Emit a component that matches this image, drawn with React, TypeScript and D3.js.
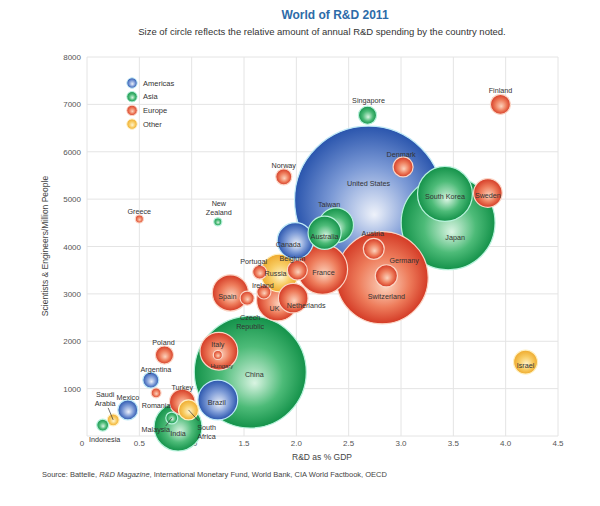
import React from "react";
import * as d3 from "d3";

// ---------- DATA ----------
const regions = ["Americas", "Asia", "Europe", "Other"];

const countries = [
  "United States", "China", "Germany", "Japan", "South Korea", "France", "India", "UK",
  "Russia", "Brazil", "Italy", "Canada", "Spain", "Taiwan", "Australia", "Netherlands",
  "Sweden", "Turkey", "Israel", "Switzerland", "Austria", "Belgium", "Finland", "Denmark",
  "Mexico", "South Africa", "Singapore", "Poland", "Norway", "Argentina", "Portugal",
  "Ireland", "Czech Republic", "Malaysia", "Saudi Arabia", "Indonesia", "Romania",
  "Hungary", "Greece", "New Zealand",
];
const countryRegion = [
  "Americas", "Asia", "Europe", "Asia", "Asia", "Europe", "Asia", "Europe",
  "Other", "Americas", "Europe", "Americas", "Europe", "Asia", "Asia", "Europe",
  "Europe", "Europe", "Other", "Europe", "Europe", "Europe", "Europe", "Europe",
  "Americas", "Other", "Asia", "Europe", "Europe", "Americas", "Europe",
  "Europe", "Europe", "Asia", "Other", "Asia", "Europe",
  "Europe", "Europe", "Asia",
];
// R&D as % of GDP
const rdPctGdp = [
  2.69, 1.56, 2.82, 3.45, 3.42, 2.25, 0.87, 1.82,
  1.84, 1.25, 1.26, 1.99, 1.37, 2.38, 2.27, 1.97,
  3.83, 0.91, 4.19, 2.86, 2.74, 2.01, 3.95, 3.02,
  0.39, 0.97, 2.68, 0.74, 1.88, 0.61, 1.65,
  1.69, 1.53, 0.81, 0.25, 0.15, 0.66,
  1.25, 0.5, 1.25,
];
// Scientists & engineers per million people
const scientists = [
  4980, 1350, 3340, 4500, 5110, 3520, 190, 2870,
  3440, 760, 1790, 4120, 3020, 4450, 4290, 2910,
  5130, 720, 1560, 3380, 3950, 3500, 7000, 5680,
  550, 550, 6770, 1710, 5470, 1180, 3460,
  3040, 2910, 380, 340, 230, 910,
  1710, 4580, 4520,
];
// Annual R&D spending (billion US$)
const spending = [
  400, 229, 155, 161, 55, 46, 42, 32,
  26, 29, 26, 24, 24, 22, 20, 16,
  15, 12, 10.5, 9, 8, 7.3, 7.3, 7.3,
  7.3, 7.3, 6, 6, 4.7, 4.7, 3.6,
  3.6, 3.6, 2.6, 2.6, 2.6, 1.8,
  1.5, 1.2, 1.2,
];

const xTicks = [0, 0.5, 1, 1.5, 2, 2.5, 3, 3.5, 4, 4.5];
const xTickLabels = ["0", "0.5", "1.0", "1.5", "2.0", "2.5", "3.0", "3.5", "4.0", "4.5"];
const yTicks = [0, 1000, 2000, 3000, 4000, 5000, 6000, 7000, 8000];
const yTickLabels = ["0", "1000", "2000", "3000", "4000", "5000", "6000", "7000", "8000"];

// ---------- LAYOUT / STYLE ----------
const W = 600, H = 506;
const PL = 87, PR = 558, PT = 57, PB = 436;
const FONT = "'Liberation Sans Narrow', 'Liberation Sans', Arial, sans-serif";

const palette: Record<string, { light: string; mid: string; base: string; stroke: string }> = {
  Americas: { light: "#eef2fa", mid: "#7c9ad6", base: "#2a55ad", stroke: "#bfe9f7" },
  Asia: { light: "#d9f4e2", mid: "#4dbb78", base: "#14924a", stroke: "#b8f2dc" },
  Europe: { light: "#fcd3bd", mid: "#ee7d5c", base: "#d43b26", stroke: "#fbd6c6" },
  Other: { light: "#fff5cf", mid: "#f8cc63", base: "#eeaa2e", stroke: "#fff0c0" },
};

// label placement relative to bubble centre (pixels)
type Lab = { dx: number; dy: number; lines?: string[]; lead?: [number, number, number, number]; fs?: number };
const labelLayout: Record<string, Lab> = {
  "United States": { dx: 0, dy: -17 },
  China: { dx: 4, dy: 2 },
  Germany: { dx: 22, dy: -17 },
  Japan: { dx: 7, dy: 15 },
  "South Korea": { dx: 0, dy: 3 },
  France: { dx: 1, dy: 3 },
  India: { dx: 0, dy: 7 },
  UK: { dx: -3, dy: 8 },
  Russia: { dx: -4, dy: 0 },
  Brazil: { dx: -1, dy: 3 },
  Italy: { dx: -1, dy: -7 },
  Canada: { dx: -7, dy: 4 },
  Spain: { dx: -3, dy: 4 },
  Australia: { dx: 0, dy: 4 },
  Taiwan: { dx: -7, dy: -21 },
  Netherlands: { dx: 13, dy: 7 },
  Sweden: { dx: 0, dy: 3 },
  Turkey: { dx: 0, dy: -14 },
  Israel: { dx: 0, dy: 3 },
  Switzerland: { dx: 0, dy: 21 },
  Austria: { dx: -1, dy: -15 },
  Belgium: { dx: -5, dy: -12 },
  Finland: { dx: 0, dy: -14 },
  Denmark: { dx: -2, dy: -12 },
  Mexico: { dx: 0, dy: -12 },
  "South Africa": { dx: 18, dy: 18, lines: ["South", "Africa"], lead: [0, 0, 10, 11] },
  Singapore: { dx: 1, dy: -15 },
  Poland: { dx: -1, dy: -12 },
  Norway: { dx: 0, dy: -11 },
  Argentina: { dx: 5, dy: -11 },
  Portugal: { dx: -6, dy: -11 },
  Ireland: { dx: -1, dy: -6 },
  "Czech Republic": { dx: 3, dy: 19, lines: ["Czech", "Republic"] },
  Malaysia: { dx: -16, dy: 12, lead: [0, 0, -6, 8] },
  "Saudi Arabia": { dx: -8, dy: -25, lines: ["Saudi", "Arabia"], lead: [0, 0, -5, -12] },
  Indonesia: { dx: 2, dy: 14 },
  Romania: { dx: 0, dy: 13 },
  Hungary: { dx: 4, dy: 11, fs: 6 },
  Greece: { dx: 0, dy: -8 },
  "New Zealand": { dx: 1, dy: -18, lines: ["New", "Zealand"] },
};

export default function App() {
  const x = d3.scaleLinear().domain([0, 4.5]).range([PL, PR]);
  const y = d3.scaleLinear().domain([0, 8000]).range([PB, PT]);
  const r = d3.scaleSqrt().domain([0, 400]).range([0, 74]);

  const data = countries
    .map((c, i) => ({
      name: c,
      region: countryRegion[i],
      x: rdPctGdp[i],
      y: scientists[i],
      s: spending[i],
    }))
    .sort((a, b) => b.s - a.s);

  return (
    <svg
      width={W}
      height={H}
      style={{ position: "absolute", left: 0, top: 0, background: "#fff" }}
      fontFamily={FONT}
    >
      <defs>
        {regions.map((g) => (
          <radialGradient key={g} id={`grad-${g}`} cx="50%" cy="50%" r="50%" fx="54%" fy="60%">
            <stop offset="0%" stopColor={palette[g].light} />
            <stop offset="55%" stopColor={palette[g].mid} />
            <stop offset="100%" stopColor={palette[g].base} />
          </radialGradient>
        ))}
      </defs>
      <rect width={W} height={H} fill="#fff" />

      {/* title */}
      <text x={335} y={19} textAnchor="middle" fontSize={12} fontWeight="bold" fill="#2d6ba8" fontFamily="'Liberation Sans', Arial, sans-serif">
        World of R&amp;D 2011
      </text>
      <text x={322} y={35} textAnchor="middle" fontSize={9.5} fill="#333">
        Size of circle reflects the relative amount of annual R&amp;D spending by the country noted.
      </text>

      {/* grid */}
      <g stroke="#e4e4e4" strokeWidth={1}>
        {xTicks.map((t) => (
          <line key={"gx" + t} x1={x(t)} x2={x(t)} y1={PT} y2={PB} />
        ))}
        {yTicks.map((t) => (
          <line key={"gy" + t} x1={PL} x2={PR} y1={y(t)} y2={y(t)} />
        ))}
      </g>

      {/* tick labels */}
      <g fontSize={8} fill="#555">
        {xTicks.map((t, i) => (
          <text key={"tx" + t} x={x(t) - (i === 0 ? 5 : 0)} y={446} textAnchor="middle">
            {xTickLabels[i]}
          </text>
        ))}
        {yTicks.map((t, i) =>
          i === 0 ? null : (
            <text key={"ty" + t} x={81} y={y(t) + 3} textAnchor="end">
              {yTickLabels[i]}
            </text>
          )
        )}
      </g>

      {/* axis titles */}
      <text x={322} y={460} textAnchor="middle" fontSize={8.5} fill="#444">
        R&amp;D as % GDP
      </text>
      <text transform="translate(48,246) rotate(-90)" textAnchor="middle" fontSize={8.5} fill="#444">
        Scientists &amp; Engineers/Million People
      </text>

      {/* source */}
      <text x={42} y={477} fontSize={7.5} fill="#444">
        Source: Battelle, <tspan fontStyle="italic">R&amp;D Magazine</tspan>, International Monetary Fund, World Bank, CIA World Factbook, OECD
      </text>

      {/* legend */}
      <g fontSize={7.5} fill="#333">
        {regions.map((g, i) => (
          <g key={g}>
            <circle cx={132} cy={83 + i * 13.7} r={5.2} fill={`url(#grad-${g})`} stroke={palette[g].stroke} strokeWidth={1} />
            <text x={143} y={83 + i * 13.7 + 2.6}>{g}</text>
          </g>
        ))}
      </g>

      {/* bubbles */}
      <g>
        {data.map((d) => (
          <circle
            key={d.name}
            cx={x(d.x)}
            cy={y(d.y)}
            r={r(d.s)}
            fill={`url(#grad-${d.region})`}
            stroke={palette[d.region].stroke}
            strokeWidth={1.2}
          />
        ))}
      </g>

      {/* labels */}
      <g fontSize={7.2} fill="#333" textAnchor="middle">
        {data.map((d) => {
          const L = labelLayout[d.name] || { dx: 0, dy: 0 };
          const cx = x(d.x), cy = y(d.y);
          const lines = L.lines || [d.name];
          return (
            <g key={"l" + d.name}>
              {L.lead && (
                <line
                  x1={cx + L.lead[0]}
                  y1={cy + L.lead[1]}
                  x2={cx + L.lead[2]}
                  y2={cy + L.lead[3]}
                  stroke="#333"
                  strokeWidth={0.7}
                />
              )}
              {lines.map((ln, k) => (
                <text key={k} x={cx + L.dx} y={cy + L.dy + k * 9 + 2.5} fontSize={L.fs}>
                  {ln}
                </text>
              ))}
            </g>
          );
        })}
      </g>
    </svg>
  );
}
